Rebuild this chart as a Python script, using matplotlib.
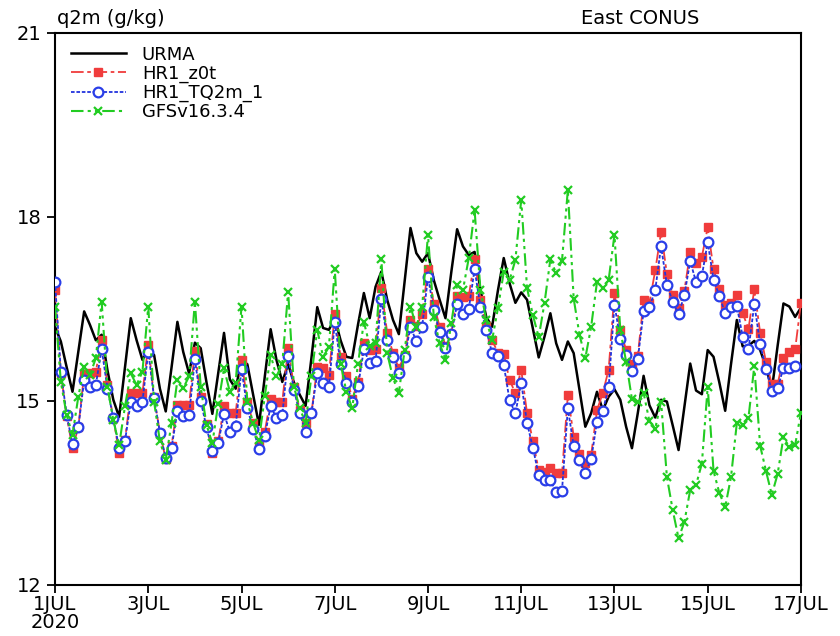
import numpy as np
import pandas as pd
import matplotlib
matplotlib.use("Agg")
import matplotlib.pyplot as plt

# 3-hourly times, 1 JUL 00Z to 17 JUL 00Z 2020
times = pd.date_range("2020-07-01 00:00", periods=129, freq="3h")

urma = [
    16.21, 15.97, 15.55, 15.15, 15.80, 16.46, 16.24, 15.99,
    16.08, 15.50, 15.02, 14.74, 15.55, 16.35, 15.99, 15.67,
    15.83, 15.75, 15.20, 14.83, 15.55, 16.29, 15.80, 15.45,
    15.95, 15.86, 15.30, 14.79, 15.45, 16.11, 15.35, 15.20,
    15.66, 15.60, 15.10, 14.61, 15.40, 16.17, 15.67, 15.31,
    15.60, 15.30, 15.10, 14.92, 15.70, 16.53, 16.19, 16.16,
    16.35, 15.99, 15.72, 15.70, 16.25, 16.76, 16.35, 16.86,
    17.11, 16.65, 16.32, 16.09, 16.95, 17.82, 17.41, 17.27,
    17.41, 16.97, 16.65, 16.35, 17.10, 17.80, 17.52, 17.38,
    17.43, 16.81, 16.37, 16.21, 16.80, 17.33, 16.92, 16.60,
    16.77, 16.65, 16.18, 15.71, 16.05, 16.43, 15.94, 15.67,
    15.97, 15.78, 15.18, 14.58, 14.80, 15.15, 14.85, 15.07,
    15.19, 15.02, 14.58, 14.23, 14.80, 15.41, 14.93, 14.73,
    15.02, 14.99, 14.60, 14.20, 14.90, 15.61, 15.17, 15.11,
    15.83, 15.72, 15.30, 14.84, 15.60, 16.32, 15.89, 15.90,
    15.98, 15.83, 15.56, 15.18, 15.90, 16.59, 16.54, 16.37,
    16.52,
]

hr1_z0t = [
    16.81, 15.45, 14.75, 14.23, 14.57, 15.44, 15.45, 15.48,
    15.99, 15.26, 14.72, 14.15, 14.36, 15.13, 15.13, 15.13,
    15.91, 15.06, 14.48, 14.05, 14.27, 14.94, 14.94, 14.94,
    15.81, 15.07, 14.62, 14.15, 14.34, 14.91, 14.80, 14.80,
    15.67, 14.99, 14.64, 14.26, 14.50, 15.04, 14.99, 14.99,
    15.86, 15.23, 14.86, 14.64, 14.80, 15.56, 15.53, 15.42,
    16.42, 15.72, 15.40, 15.04, 15.31, 15.94, 15.83, 15.84,
    16.84, 16.11, 15.78, 15.53, 15.75, 16.32, 16.22, 16.42,
    17.15, 16.58, 16.21, 15.90, 16.10, 16.71, 16.70, 16.71,
    17.31, 16.65, 16.22, 15.99, 15.79, 15.77, 15.34, 15.13,
    15.51, 14.80, 14.35, 13.87, 13.85, 13.90, 13.82, 13.82,
    15.10, 14.42, 14.14, 13.99, 14.12, 14.85, 15.13, 15.51,
    16.76, 16.16, 15.83, 15.60, 15.73, 16.64, 16.60, 17.13,
    17.75, 17.07, 16.73, 16.51, 16.80, 17.43, 17.25, 17.35,
    17.83, 17.15, 16.82, 16.57, 16.60, 16.73, 16.43, 16.18,
    16.82, 16.11, 15.64, 15.28, 15.28, 15.70, 15.80, 15.84,
    16.60,
]

hr1_tq2m = [
    16.94, 15.48, 14.77, 14.30, 14.57, 15.34, 15.23, 15.26,
    15.85, 15.20, 14.72, 14.23, 14.34, 14.99, 14.92, 14.99,
    15.80, 15.05, 14.48, 14.07, 14.24, 14.83, 14.75, 14.77,
    15.68, 15.00, 14.57, 14.18, 14.31, 14.79, 14.50, 14.59,
    15.52, 14.88, 14.55, 14.21, 14.43, 14.92, 14.72, 14.77,
    15.73, 15.18, 14.80, 14.50, 14.80, 15.45, 15.29, 15.23,
    16.28, 15.61, 15.30, 14.98, 15.24, 15.84, 15.62, 15.65,
    16.67, 15.99, 15.72, 15.46, 15.71, 16.21, 15.97, 16.21,
    17.02, 16.48, 16.13, 15.87, 16.09, 16.58, 16.42, 16.50,
    17.15, 16.53, 16.16, 15.78, 15.74, 15.59, 15.01, 14.80,
    15.30, 14.64, 14.24, 13.79, 13.71, 13.71, 13.51, 13.54,
    14.88, 14.27, 14.03, 13.83, 14.05, 14.66, 14.84, 15.22,
    16.57, 16.01, 15.75, 15.49, 15.68, 16.46, 16.53, 16.81,
    17.52, 16.89, 16.62, 16.41, 16.73, 17.28, 16.94, 17.04,
    17.59, 16.98, 16.71, 16.43, 16.53, 16.55, 16.05, 15.84,
    16.58, 15.93, 15.52, 15.17, 15.21, 15.54, 15.53, 15.57,
    np.nan,
]

gfs = [
    16.54, 15.31, 14.77, 14.45, 15.07, 15.56, 15.42, 15.70,
    16.62, 15.23, 14.69, 14.28, 14.91, 15.45, 15.26, 15.48,
    16.54, 14.99, 14.34, 14.04, 14.64, 15.34, 15.21, 15.40,
    16.62, 15.23, 14.61, 14.31, 14.95, 15.53, 15.15, 15.30,
    16.54, 14.99, 14.64, 14.36, 15.08, 15.75, 15.40, 15.61,
    16.78, 15.23, 14.88, 14.64, 15.41, 16.16, 15.72, 15.88,
    17.15, 15.61, 15.15, 14.88, 15.61, 16.29, 15.90, 15.94,
    17.31, 15.78, 15.37, 15.13, 15.83, 16.54, 16.21, 16.54,
    17.71, 16.37, 15.94, 15.67, 16.27, 16.89, 16.81, 17.33,
    18.11, 16.81, 16.32, 15.99, 16.51, 17.10, 16.97, 17.30,
    18.28, 16.84, 16.40, 16.04, 16.60, 17.31, 17.08, 17.29,
    18.44, 16.67, 16.08, 15.70, 16.21, 16.94, 16.84, 16.97,
    17.71, 16.16, 15.64, 15.03, 14.99, 15.13, 14.67, 14.55,
    14.99, 13.76, 13.22, 12.76, 13.03, 13.55, 13.63, 13.98,
    15.23, 13.86, 13.50, 13.27, 13.76, 14.64, 14.61, 14.73,
    15.57, 14.27, 13.86, 13.47, 13.81, 14.41, 14.25, 14.28,
    14.81,
]

xtick_dates = pd.date_range("2020-07-01", "2020-07-17", freq="2D")
xtick_labels = ["1JUL\n2020", "3JUL", "5JUL", "7JUL", "9JUL",
                "11JUL", "13JUL", "15JUL", "17JUL"]
yticks = [12, 15, 18, 21]

plt.rcParams["font.family"] = ["DejaVu Sans"]

fig = plt.figure(figsize=(8.4, 6.36), dpi=100)
ax = fig.add_axes([0.0655, 0.0802, 0.888, 0.868])

ax.plot(times, urma, color="black", lw=1.8, label="URMA", zorder=3)
ax.plot(times, hr1_z0t, color="#f03c3c", lw=1.3, ls=(0, (7, 2, 2, 2)),
        marker="s", ms=6, mec="#f03c3c", mfc="#f03c3c",
        label="HR1_z0t", zorder=4)
ax.plot(times, hr1_tq2m, color="#2233dd", lw=1.3, ls=(0, (2, 1)),
        marker="o", ms=7, mew=1.6, mec="#2a3ee8", mfc="white",
        label="HR1_TQ2m_1", zorder=5)
ax.plot(times, gfs, color="#22cc22", lw=1.5, ls=(0, (6, 2, 1.5, 2, 1.5, 2)),
        marker="x", ms=6, mew=1.6, label="GFSv16.3.4", zorder=6)

ax.set_xlim(times[0], times[-1])
ax.set_ylim(12, 21)
ax.set_yticks(yticks)
ax.set_yticklabels([str(v) for v in yticks])
ax.set_xticks(xtick_dates)
ax.set_xticklabels(xtick_labels, linespacing=0.95)
ax.minorticks_off()
ax.tick_params(direction="out", length=6, width=1.3, labelsize=14, pad=1)
ax.tick_params(axis="y", pad=4)
for s in ax.spines.values():
    s.set_linewidth(1.5)

ax.text(0.003, 1.026, "q2m (g/kg)", transform=ax.transAxes,
        fontsize=14, ha="left", va="center")
ax.text(0.785, 1.026, "East CONUS", transform=ax.transAxes,
        fontsize=14, ha="center", va="center")

leg = ax.legend(loc="upper left", frameon=False, fontsize=13,
                handlelength=3.0, handletextpad=0.9, labelspacing=0.06,
                borderaxespad=0.3, bbox_to_anchor=(0.005, 1.0))

fig.savefig("out.png", dpi=100)
